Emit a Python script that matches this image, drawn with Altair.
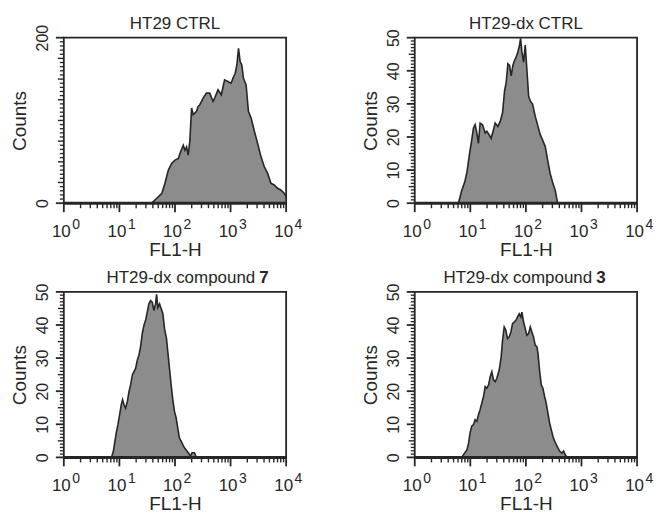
import altair as alt
import pandas as pd

# ---------------- data ----------------
# Panel 1: HT29 CTRL
p1_fl = [38, 47, 58, 66, 76, 87, 100, 115, 126, 141, 151, 162, 173, 185, 199, 213, 228, 244, 261, 280,
         321, 368, 422, 483, 518, 594, 681, 781, 896, 1028, 1101, 1211, 1298, 1390, 1489, 1594, 1707,
         1905, 2096, 2338, 2683, 3077, 3530, 4050, 4643, 5325, 6109, 7008, 8035, 9213, 10000]
p1_counts = [0, 6, 12, 24, 40, 48, 52, 54, 62, 70, 64, 68, 58, 75, 115, 107, 109, 111, 117, 119,
             127, 133, 133, 123, 127, 137, 131, 149, 147, 145, 151, 157, 167, 187, 171, 167, 151,
             143, 111, 103, 87, 72, 56, 44, 36, 24, 22, 18, 16, 12, 8]

# Panel 2: HT29-dx CTRL
p2_fl = [6.1, 7.0, 7.9, 8.7, 9.5, 10.6, 11.4, 12.2, 13.1, 14.0, 15.0, 16.6, 18.5, 19.8, 21.8, 23.7,
         26.1, 28.0, 31.3, 34.5, 38.0, 41.3, 44.2, 47.4, 50.8, 54.4, 58.3, 62.5, 66.9, 71.7, 76.9,
         80.2, 84.7, 90.8, 97.3, 104, 112, 120, 132, 147, 165, 181, 200, 223, 246, 274, 302, 338, 372]
p2_counts = [0, 3.8, 6.3, 9.4, 14.0, 19.1, 22.7, 23.7, 21.2, 18.1, 24.2, 23.7, 21.2, 21.7, 20.7, 19.6,
             22.2, 24.2, 23.2, 24.7, 27.3, 33.9, 36.5, 42.1, 41.6, 38.5, 41.6, 43.1, 44.2, 45.7, 47.8,
             49.8, 45.7, 42.6, 47.8, 40.6, 32.4, 30.9, 29.9, 26.3, 23.2, 20.7, 19.1, 17.1, 13.0, 8.9,
             6.3, 3.8, 0]

# Panel 3: HT29-dx compound 7
p3_fl = [7.2, 7.8, 8.3, 8.9, 9.4, 10.1, 10.8, 11.4, 12.1, 12.9, 13.9, 14.9, 15.9, 17.1, 18.3, 19.6,
         21.0, 22.5, 24.0, 25.8, 27.6, 29.6, 31.7, 33.9, 36.4, 38.9, 41.7, 44.7, 46.6, 49.2, 52.7,
         56.5, 60.5, 64.8, 70.4, 74.3, 79.6, 85.3, 91.4, 97.9, 105, 112, 120, 129, 138, 148, 165,
         190, 203, 224, 243]
p3_counts = [0, 1.9, 4.9, 7.9, 9.9, 12.9, 15.9, 17.4, 15.9, 14.9, 16.9, 19.9, 21.9, 24.9, 25.9, 26.9,
             29.4, 30.9, 33.4, 37.4, 39.9, 41.4, 43.9, 46.4, 47.4, 46.9, 44.4, 46.4, 49.3, 45.3, 46.4,
             44.9, 43.4, 38.9, 35.9, 31.9, 26.9, 21.9, 17.4, 13.9, 11.9, 8.9, 5.9, 4.9, 3.9, 2.9, 1.9,
             0.4, 1.4, 1.4, 0]

# Panel 4: HT29-dx compound 3
p4_fl = [7.0, 7.9, 8.7, 9.3, 9.9, 10.6, 11.4, 12.2, 13.1, 14.0, 15.0, 16.1, 17.3, 18.5, 19.8, 21.3,
         22.8, 24.4, 26.1, 28.0, 30.0, 33.1, 35.9, 38.0, 40.7, 43.6, 46.7, 50.1, 53.7, 57.5, 61.6,
         66.0, 70.7, 75.8, 81.2, 84.7, 90.8, 97.3, 104, 112, 120, 128, 137, 147, 158, 165, 176, 189,
         202, 217, 232, 249, 267, 286, 306, 329, 352, 377, 404, 446, 477, 512, 548]
p4_counts = [0, 1.3, 2.3, 4.3, 7.4, 9.4, 9.9, 11.4, 10.9, 12.9, 14.4, 16.4, 18.4, 21.4, 20.9, 21.9,
             24.4, 25.9, 23.4, 22.9, 23.9, 26.4, 30.4, 35.4, 39.4, 38.4, 35.9, 36.4, 37.9, 40.4, 40.9,
             41.4, 42.4, 43.4, 42.4, 43.9, 40.9, 38.9, 36.9, 37.4, 39.4, 37.9, 36.4, 33.9, 33.4, 31.4,
             26.4, 21.9, 20.9, 18.4, 16.4, 13.4, 10.4, 8.4, 6.4, 4.9, 3.9, 2.9, 1.9, 1.3, 1.9, 0.8, 0]

titles_plain = ["HT29 CTRL", "HT29-dx CTRL", "HT29-dx compound", "HT29-dx compound"]
titles_bold = ["", "", "7", "3"]

x_major = [1, 10, 100, 1000, 10000]
x_minor = [m * d for d in [1, 10, 100, 1000] for m in range(2, 10)]

y200_major = [0, 200]
y200_med = [25, 50, 75, 100, 125, 150, 175]
y200_minor = [v for v in range(5, 200, 5) if v % 25 != 0]
y50_major = [0, 10, 20, 30, 40, 50]
y50_med = [5, 15, 25, 35, 45]
y50_minor = [v for v in range(1, 50) if v % 5 != 0]

# ---------------- style ----------------
W, H = 223, 166
FONT = "Liberation Sans"
INK = "#262626"
FILL = "#8c8c8c"


def tick_rules(values, scale, channel, length, width):
    d = pd.DataFrame({"v": values})
    base = alt.Chart(d).mark_rule(color=INK, strokeWidth=width)
    if channel == "x":
        return base.encode(x=alt.X("v:Q", scale=scale, axis=None),
                           y=alt.value(H), y2=alt.value(H + length))
    return base.encode(y=alt.Y("v:Q", scale=scale, axis=None),
                       x=alt.value(-length), x2=alt.value(0))


def panel(fl, counts, ymax, ymaj, ymed, ymin, t_plain, t_bold, split_x):
    df = pd.DataFrame({"FL1-H": fl, "Counts": counts})
    xs = alt.Scale(type="log", domain=[1, 10000], nice=False)
    ys = alt.Scale(domain=[0, ymax], nice=False)

    area = alt.Chart(df).mark_area(fill=FILL, stroke=INK, strokeWidth=1.6).encode(
        x=alt.X("FL1-H:Q", scale=xs, axis=alt.Axis(
            orient="bottom", values=x_major, labelExpr="'10'", grid=False,
            ticks=False, tickSize=0, domain=False,
            labelFontSize=17, labelFont=FONT, labelColor=INK, labelAlign="center",
            labelBaseline="alphabetic", labelPadding=33, labelOffset=-3,
            labelFlush=False, labelOverlap=False,
            title="FL1-H", titleFont=FONT, titleFontSize=19, titleFontWeight="normal",
            titleColor=INK, titleX=W / 2, titleY=52, titleAlign="center",
            titleBaseline="alphabetic")),
        y=alt.Y("Counts:Q", scale=ys, axis=alt.Axis(
            orient="left", values=ymaj, grid=False, ticks=False, tickSize=0, domain=False,
            labelFontSize=16, labelFont=FONT, labelColor=INK, labelAngle=270,
            labelAlign="center", labelBaseline="alphabetic", labelPadding=16.5,
            labelFlush=False, labelOverlap=False,
            title="Counts", titleFont=FONT, titleFontSize=19, titleFontWeight="normal",
            titleColor=INK, titleAngle=270, titleX=-38, titleY=H / 2, titleAlign="center",
            titleBaseline="alphabetic")),
    )

    expo = alt.Chart(df).mark_point(opacity=0).encode(
        x=alt.X("FL1-H:Q", scale=xs, axis=alt.Axis(
            orient="bottom", values=x_major, grid=False, domain=False, ticks=False, tickSize=0,
            labelExpr="'' + round(log(datum.value) / LN10)",
            labelFontSize=14, labelFont=FONT, labelColor=INK, labelAlign="left",
            labelBaseline="alphabetic", labelPadding=25, labelOffset=8,
            labelFlush=False, labelOverlap=False, title=None)),
        y=alt.Y("Counts:Q", scale=ys, axis=None),
    )

    baseline = alt.Chart(pd.DataFrame({"v": [0]})).mark_rule(color=INK, strokeWidth=3).encode(
        x=alt.value(0), x2=alt.value(W), y=alt.Y("v:Q", scale=ys, axis=None))

    layers = [area, expo,
              tick_rules(x_minor, xs, "x", 5, 1.4),
              tick_rules(x_major, xs, "x", 9, 1.8),
              tick_rules(ymin, ys, "y", 4, 1.3),
              tick_rules(ymed, ys, "y", 6, 1.4),
              tick_rules(ymaj, ys, "y", 8, 1.8),
              baseline]

    if t_bold:
        tp = alt.Chart(pd.DataFrame({"t": [t_plain]})).mark_text(
            font=FONT, fontSize=17, color=INK, align="right", baseline="alphabetic"
        ).encode(text="t:N", x=alt.value(split_x), y=alt.value(-9))
        tb = alt.Chart(pd.DataFrame({"t": [t_bold]})).mark_text(
            font=FONT, fontSize=17, fontWeight="bold", color=INK, align="left",
            baseline="alphabetic"
        ).encode(text="t:N", x=alt.value(split_x + 4), y=alt.value(-9))
        layers += [tp, tb]
    else:
        tp = alt.Chart(pd.DataFrame({"t": [t_plain]})).mark_text(
            font=FONT, fontSize=17, color=INK, align="center", baseline="alphabetic"
        ).encode(text="t:N", x=alt.value(W / 2), y=alt.value(-9))
        layers += [tp]

    return alt.layer(*layers).resolve_axis(x="independent", y="independent").properties(
        width=W, height=H)


c1 = panel(p1_fl, p1_counts, 200, y200_major, y200_med, y200_minor, titles_plain[0], titles_bold[0], 0)
c2 = panel(p2_fl, p2_counts, 50, y50_major, y50_med, y50_minor, titles_plain[1], titles_bold[1], 0)
c3 = panel(p3_fl, p3_counts, 50, y50_major, y50_med, y50_minor, titles_plain[2], titles_bold[2], 192)
c4 = panel(p4_fl, p4_counts, 50, y50_major, y50_med, y50_minor, titles_plain[3], titles_bold[3], 178)

chart = alt.concat(c1, c2, c3, c4, columns=2, spacing={"row": 89, "column": 129},
                   bounds="flush").properties(
    padding={"left": 2, "top": 5, "right": 0, "bottom": 0}
).configure(font=FONT).configure_view(stroke=INK, strokeWidth=1.8)

chart.save("out.html", embed_options={"renderer": "svg", "actions": False})
